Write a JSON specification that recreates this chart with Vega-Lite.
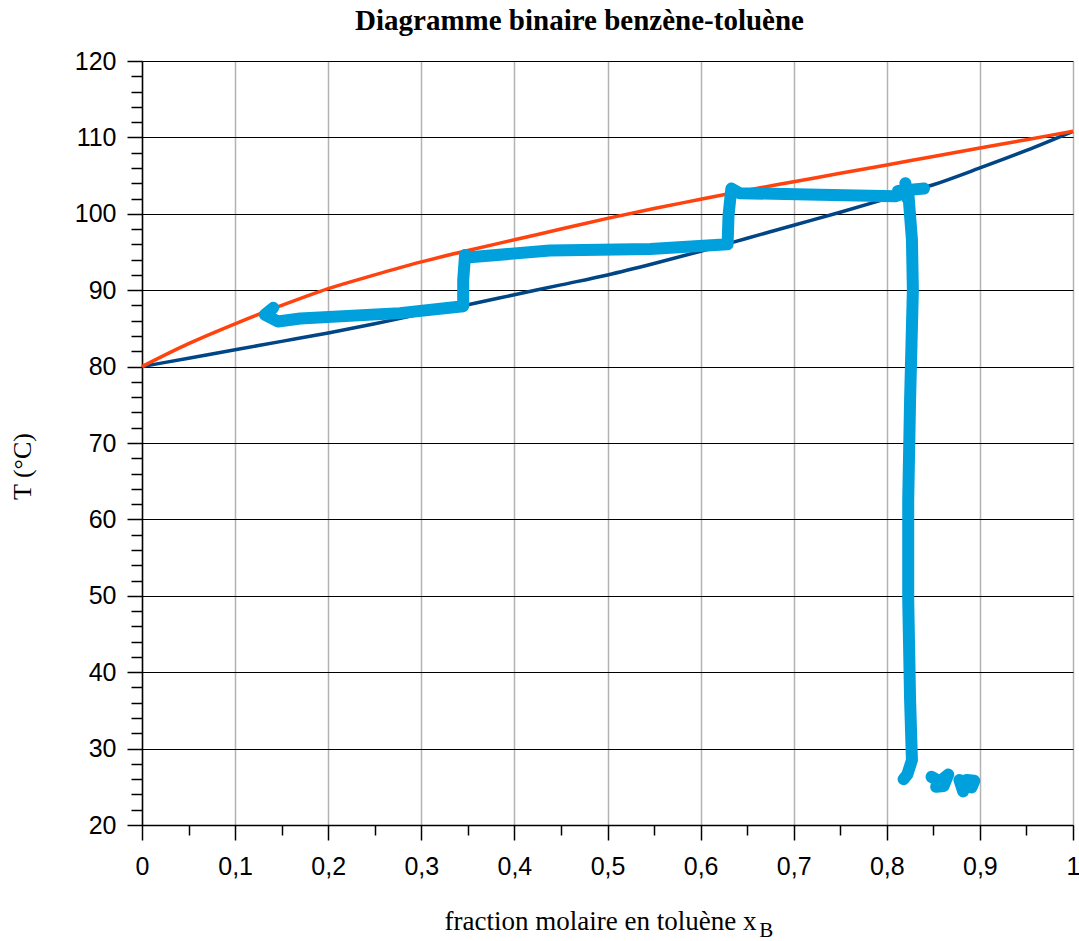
{
  "$schema": "https://vega.github.io/schema/vega-lite/v6.json",
  "width": 931,
  "height": 764,
  "autosize": {"type": "none"},
  "padding": {"left": 142, "top": 61, "right": 6, "bottom": 116},
  "background": "white",
  "title": {"text": "Diagramme binaire benzène-toluène", "font": "Liberation Serif", "fontSize": 29, "fontWeight": "bold", "color": "#000000", "anchor": "middle", "offset": 13, "dx": -28},
  "config": {"view": {"stroke": null}},
  "datasets": {
    "curves": [
      {"courbe": "liquide", "x": 0, "T": 80.0},
      {"courbe": "liquide", "x": 0.05, "T": 81.1},
      {"courbe": "liquide", "x": 0.1, "T": 82.2},
      {"courbe": "liquide", "x": 0.15, "T": 83.3},
      {"courbe": "liquide", "x": 0.2, "T": 84.4},
      {"courbe": "liquide", "x": 0.25, "T": 85.6},
      {"courbe": "liquide", "x": 0.3, "T": 86.9},
      {"courbe": "liquide", "x": 0.35, "T": 88.1},
      {"courbe": "liquide", "x": 0.4, "T": 89.4},
      {"courbe": "liquide", "x": 0.45, "T": 90.7},
      {"courbe": "liquide", "x": 0.5, "T": 92.0},
      {"courbe": "liquide", "x": 0.55, "T": 93.5},
      {"courbe": "liquide", "x": 0.6, "T": 95.1},
      {"courbe": "liquide", "x": 0.65, "T": 96.8},
      {"courbe": "liquide", "x": 0.7, "T": 98.5},
      {"courbe": "liquide", "x": 0.75, "T": 100.2},
      {"courbe": "liquide", "x": 0.8, "T": 102.0},
      {"courbe": "liquide", "x": 0.85, "T": 103.8},
      {"courbe": "liquide", "x": 0.9, "T": 106.0},
      {"courbe": "liquide", "x": 0.95, "T": 108.3},
      {"courbe": "liquide", "x": 1, "T": 110.8},
      {"courbe": "vapeur", "x": 0, "T": 80.0},
      {"courbe": "vapeur", "x": 0.05, "T": 83.0},
      {"courbe": "vapeur", "x": 0.1, "T": 85.6},
      {"courbe": "vapeur", "x": 0.15, "T": 88.0},
      {"courbe": "vapeur", "x": 0.2, "T": 90.2},
      {"courbe": "vapeur", "x": 0.25, "T": 92.0},
      {"courbe": "vapeur", "x": 0.3, "T": 93.7},
      {"courbe": "vapeur", "x": 0.35, "T": 95.2},
      {"courbe": "vapeur", "x": 0.4, "T": 96.6},
      {"courbe": "vapeur", "x": 0.45, "T": 98.0},
      {"courbe": "vapeur", "x": 0.5, "T": 99.4},
      {"courbe": "vapeur", "x": 0.55, "T": 100.7},
      {"courbe": "vapeur", "x": 0.6, "T": 101.9},
      {"courbe": "vapeur", "x": 0.65, "T": 103.1},
      {"courbe": "vapeur", "x": 0.7, "T": 104.2},
      {"courbe": "vapeur", "x": 0.75, "T": 105.3},
      {"courbe": "vapeur", "x": 0.8, "T": 106.4},
      {"courbe": "vapeur", "x": 0.85, "T": 107.5},
      {"courbe": "vapeur", "x": 0.9, "T": 108.6},
      {"courbe": "vapeur", "x": 0.95, "T": 109.7},
      {"courbe": "vapeur", "x": 1, "T": 110.8}
    ],
    "trace": [
      {"seg": "a", "i": 1, "x": 0.141, "T": 87.7},
      {"seg": "a", "i": 2, "x": 0.132, "T": 86.8},
      {"seg": "a", "i": 3, "x": 0.146, "T": 85.9},
      {"seg": "a", "i": 4, "x": 0.170, "T": 86.3},
      {"seg": "a", "i": 5, "x": 0.277, "T": 87.0},
      {"seg": "a", "i": 6, "x": 0.345, "T": 87.9},
      {"seg": "a", "i": 7, "x": 0.345, "T": 91.3},
      {"seg": "a", "i": 8, "x": 0.347, "T": 94.6},
      {"seg": "a", "i": 9, "x": 0.352, "T": 94.3},
      {"seg": "a", "i": 10, "x": 0.438, "T": 95.2},
      {"seg": "a", "i": 11, "x": 0.546, "T": 95.4},
      {"seg": "a", "i": 12, "x": 0.629, "T": 96.0},
      {"seg": "a", "i": 13, "x": 0.630, "T": 99.8},
      {"seg": "a", "i": 14, "x": 0.633, "T": 103.3},
      {"seg": "a", "i": 15, "x": 0.642, "T": 102.7},
      {"seg": "a", "i": 16, "x": 0.728, "T": 102.5},
      {"seg": "a", "i": 17, "x": 0.809, "T": 102.3},
      {"seg": "a", "i": 18, "x": 0.823, "T": 102.9},
      {"seg": "a", "i": 19, "x": 0.827, "T": 96.6},
      {"seg": "a", "i": 20, "x": 0.828, "T": 90.0},
      {"seg": "a", "i": 21, "x": 0.825, "T": 75.6},
      {"seg": "a", "i": 22, "x": 0.823, "T": 62.5},
      {"seg": "a", "i": 23, "x": 0.823, "T": 49.5},
      {"seg": "a", "i": 24, "x": 0.825, "T": 36.4},
      {"seg": "a", "i": 25, "x": 0.827, "T": 28.5},
      {"seg": "a", "i": 26, "x": 0.822, "T": 26.6},
      {"seg": "a", "i": 27, "x": 0.818, "T": 26.0},
      {"seg": "b", "i": 1, "x": 0.820, "T": 104.0},
      {"seg": "b", "i": 2, "x": 0.822, "T": 102.0},
      {"seg": "c", "i": 1, "x": 0.812, "T": 103.0},
      {"seg": "c", "i": 2, "x": 0.840, "T": 103.3},
      {"seg": "d", "i": 1, "x": 0.848, "T": 26.3},
      {"seg": "d", "i": 2, "x": 0.857, "T": 25.7},
      {"seg": "d", "i": 3, "x": 0.866, "T": 26.6},
      {"seg": "d", "i": 4, "x": 0.861, "T": 25.1},
      {"seg": "d", "i": 5, "x": 0.853, "T": 25.0},
      {"seg": "e", "i": 1, "x": 0.878, "T": 25.9},
      {"seg": "e", "i": 2, "x": 0.882, "T": 24.4},
      {"seg": "e", "i": 3, "x": 0.886, "T": 25.9},
      {"seg": "e", "i": 4, "x": 0.894, "T": 25.8},
      {"seg": "e", "i": 5, "x": 0.891, "T": 24.9}
    ],
    "sub": [{"label": "B"}]
  },
  "layer": [
    {
      "data": {"name": "curves"},
      "mark": {"type": "line", "strokeWidth": 3.5, "interpolate": "monotone"},
      "encoding": {
        "x": {
          "field": "x", "type": "quantitative",
          "scale": {"domain": [0, 1], "nice": false, "zero": false},
          "axis": {
            "title": "fraction molaire en toluène x",
            "titleFont": "Liberation Serif", "titleFontSize": 27, "titleFontWeight": "normal", "titleColor": "#000000",
            "titleX": 458, "titleY": 104, "titleBaseline": "alphabetic", "titleAlign": "center",
            "values": [0, 0.05, 0.1, 0.15, 0.2, 0.25, 0.3, 0.35, 0.4, 0.45, 0.5, 0.55, 0.6, 0.65, 0.7, 0.75, 0.8, 0.85, 0.9, 0.95, 1],
            "tickCount": 200,
            "labelExpr": "round(datum.value*100) % 10 !== 0 ? '' : (datum.value === 0 || datum.value === 1 ? format(datum.value, 'd') : replace(format(datum.value, '.1f'), '.', ','))",
            "labelFont": "Liberation Sans", "labelFontSize": 25, "labelColor": "#000000", "labelPadding": 14,
            "labelOverlap": false, "labelFlush": false,
            "domainColor": "#000000", "domainWidth": 1.5,
            "tickColor": "#000000", "tickWidth": 1.5,
            "tickSize": {"condition": {"test": "round(datum.value*100) % 10 === 0", "value": 15}, "value": 10},
            "grid": true, "gridColor": "#b3b3b3", "gridWidth": 1.5,
            "gridOpacity": {"condition": {"test": "round(datum.value*100) % 10 === 0", "value": 1}, "value": 0}
          }
        },
        "y": {
          "field": "T", "type": "quantitative",
          "scale": {"domain": [20, 120], "nice": false, "zero": false},
          "axis": {
            "title": "T (°C)",
            "titleFont": "Liberation Serif", "titleFontSize": 26, "titleFontWeight": "normal", "titleColor": "#000000",
            "titleX": -112, "titleY": 405, "titleBaseline": "alphabetic", "titleAlign": "center", "titleAngle": -90,
            "values": [20, 22, 24, 26, 28, 30, 32, 34, 36, 38, 40, 42, 44, 46, 48, 50, 52, 54, 56, 58, 60, 62, 64, 66, 68, 70, 72, 74, 76, 78, 80, 82, 84, 86, 88, 90, 92, 94, 96, 98, 100, 102, 104, 106, 108, 110, 112, 114, 116, 118, 120],
            "tickCount": 200,
            "labelExpr": "datum.value % 10 !== 0 ? '' : format(datum.value, 'd')",
            "labelFont": "Liberation Sans", "labelFontSize": 25, "labelColor": "#000000", "labelPadding": 11,
            "labelOverlap": false, "labelFlush": false,
            "domainColor": "#000000", "domainWidth": 1.5,
            "tickColor": "#000000", "tickWidth": 1.5,
            "tickSize": {"condition": {"test": "datum.value % 10 === 0", "value": 15}, "value": 11},
            "grid": true, "gridColor": "#000000", "gridWidth": 1.2,
            "gridOpacity": {"condition": {"test": "datum.value % 10 === 0", "value": 1}, "value": 0}
          }
        },
        "color": {"field": "courbe", "type": "nominal", "scale": {"domain": ["liquide", "vapeur"], "range": ["#004586", "#ff420e"]}, "legend": null},
        "order": {"field": "x", "type": "quantitative"}
      }
    },
    {
      "data": {"name": "trace"},
      "mark": {"type": "line", "strokeWidth": 12, "strokeCap": "round", "strokeJoin": "round", "color": "#00a0dc", "interpolate": "linear"},
      "encoding": {
        "x": {"field": "x", "type": "quantitative"},
        "y": {"field": "T", "type": "quantitative"},
        "detail": {"field": "seg", "type": "nominal"},
        "order": {"field": "i", "type": "quantitative"}
      }
    },
    {
      "data": {"name": "sub"},
      "mark": {"type": "text", "font": "Liberation Serif", "fontSize": 21, "color": "#000000", "align": "left", "baseline": "alphabetic", "clip": false},
      "encoding": {
        "text": {"field": "label", "type": "nominal"},
        "x": {"datum": 0.663},
        "y": {"datum": 5.3}
      }
    }
  ]
}
